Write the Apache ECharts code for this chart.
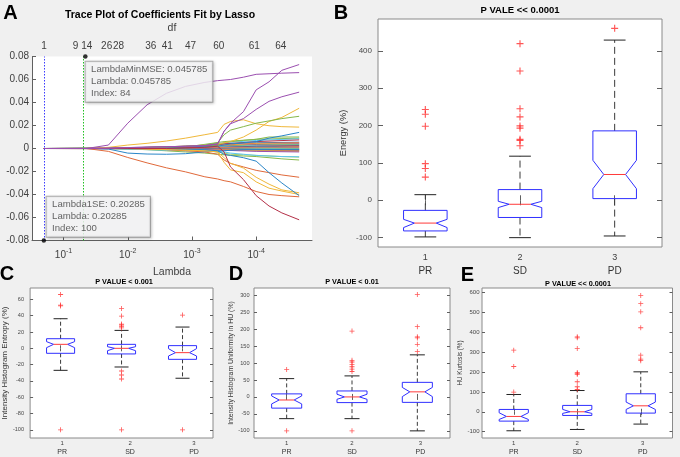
<!DOCTYPE html>
<html><head><meta charset="utf-8">
<script src="https://cdn.jsdelivr.net/npm/echarts@6/dist/echarts.min.js"></script>
<style>html,body{margin:0;padding:0;background:#f0f0f0}#c{width:680px;height:457px}</style>
</head><body><div id="c"></div>
<script>
// ---------------- Panel A data (Lasso trace) ----------------
const lambdaGrid = [0.20285, 0.1, 0.0437, 0.02, 0.01, 0.005, 0.0025, 0.00126, 0.00063, 0.000398, 0.000316, 0.000251, 0.000158, 0.0001, 0.000063, 0.0000398, 0.0000214];
const traceP1 = [0, 0, 0, 0.003, 0.022, 0.038, 0.048, 0.054, 0.0575, 0.059, 0.0595, 0.060, 0.062, 0.0645, 0.065, 0.0655, 0.066];
const traceP2 = [0, 0, 0, 0.0003, 0.0008, 0.0012, 0.0015, 0.002, 0.0025, 0.004, 0.015, 0.022, 0.032, 0.051, 0.058, 0.068, 0.073];
const traceP3 = [0, 0, 0, 0.0003, 0.0008, 0.0012, 0.0015, 0.002, 0.0025, 0.004, 0.015, 0.0215, 0.026, 0.034, 0.041, 0.045, 0.049];
const traceY1 = [0, 0, 0, 0.001, 0.003, 0.0045, 0.0065, 0.009, 0.012, 0.014, 0.021, 0.0235, 0.025, 0.0215, 0.0198, 0.019, 0.0186];
const traceY2 = [0, 0, 0, 0, 0.0005, 0.001, 0.0015, 0.002, 0.003, 0.004, 0.005, 0.006, 0.010, 0.016, 0.0235, 0.027, 0.035];
const traceG1 = [0, 0, 0, 0, 0.0005, 0.001, 0.0015, 0.002, 0.003, 0.005, 0.012, 0.016, 0.019, 0.022, 0.024, 0.026, 0.028];
const traceG2 = [0, 0, 0, 0, 0, 0.0005, 0.001, 0.0015, 0.002, 0.003, 0.005, 0.006, 0.007, 0.008, 0.010, 0.010, 0.010];
const traceB1 = [0, 0, 0, 0, 0, 0.0005, 0.001, 0.0015, 0.002, 0.002, 0.003, 0.004, 0.005, 0.006, 0.009, 0.011, 0.014];
const traceG3 = [0, 0, 0, 0, -0.0005, -0.001, -0.002, -0.003, -0.004, -0.005, -0.0055, -0.006, -0.0065, -0.007, -0.008, -0.009, -0.010];
const traceG4 = [0, 0, 0, 0, -0.0003, -0.0006, -0.001, -0.0015, -0.002, -0.003, -0.004, -0.005, -0.0055, -0.006, -0.0065, -0.007, -0.0075];
const traceLB = [0, 0, 0, 0, -0.0005, -0.001, -0.0015, -0.002, -0.002, -0.0025, -0.003, -0.004, -0.005, -0.006, -0.0065, -0.007, -0.0072];
const traceB2 = [0, 0, 0, -0.0005, -0.004, -0.0048, -0.005, -0.0045, -0.003, -0.002, -0.002, -0.0015, -0.001, -0.001, -0.001, -0.001, -0.001];
const traceR1 = [0, 0, 0, -0.0025, -0.0078, -0.0125, -0.0168, -0.0203, -0.0246, -0.0265, -0.028, -0.029, -0.033, -0.0374, -0.040, -0.041, -0.042];
const traceR2 = [0, 0, 0, 0, 0, -0.0005, -0.001, -0.002, -0.003, -0.005, -0.010, -0.013, -0.016, -0.019, -0.021, -0.023, -0.025];
const traceY3 = [0, 0, 0, 0, 0, -0.0005, -0.001, -0.0015, -0.002, -0.003, -0.012, -0.0186, -0.021, -0.029, -0.0345, -0.037, -0.040];
const traceY4 = [0, 0, 0, 0, 0, 0, -0.0005, -0.001, -0.0015, -0.003, -0.008, -0.0128, -0.017, -0.025, -0.031, -0.036, -0.0385];
const traceB3 = [0, 0, 0, 0, 0, 0, 0, -0.0005, -0.001, -0.002, -0.005, -0.006, -0.008, -0.011, -0.021, -0.030, -0.041];
const traceDR = [0, 0, 0, 0, 0, 0, 0, 0.0005, 0.001, 0.002, -0.003, -0.016, -0.027, -0.041, -0.050, -0.056, -0.062];

const bandLambda = [0.20285, 0.01, 0.001, 0.000316, 0.0001, 0.0000214];
const bandTraces = [
  [0, 0.0005, 0.002, 0.004, 0.005, 0.0055],
  [0, 0.0004, 0.0015, 0.003, 0.0045, 0.005],
  [0, 0.0003, 0.001, 0.0025, 0.004, 0.0045],
  [0, 0.0003, 0.001, 0.002, 0.0035, 0.004],
  [0, 0.0002, 0.0008, 0.002, 0.003, 0.0035],
  [0, 0.0002, 0.0006, 0.0015, 0.0025, 0.003],
  [0, 0.0001, 0.0005, 0.001, 0.002, 0.0025],
  [0, 0.0001, 0.0004, 0.001, 0.0015, 0.002],
  [0, 0.0001, 0.0003, 0.0008, 0.001, 0.0015],
  [0, 0, 0.0002, 0.0005, 0.0008, 0.001],
  [0, 0, 0.0001, 0.0003, 0.0004, 0.0005],
  [0, 0, 0, 0, 0.0001, 0],
  [0, 0, -0.0001, -0.0003, -0.0004, -0.0005],
  [0, 0, -0.0002, -0.0005, -0.0008, -0.001],
  [0, -0.0001, -0.0003, -0.0008, -0.0012, -0.0015],
  [0, -0.0001, -0.0005, -0.001, -0.0015, -0.002],
  [0, -0.0002, -0.0006, -0.0012, -0.002, -0.0025],
  [0, -0.0002, -0.0008, -0.0015, -0.0025, -0.003],
  [0, 0.0003, 0.002, 0.006, 0.008, 0.009],
  [0, 0.0002, 0.0015, 0.005, 0.007, 0.0085],
  [0, 0.0001, 0.001, 0.004, 0.006, 0.0075]
];

const lambdaTicks = [0.1, 0.01, 0.001, 0.0001];
const dfLabels = ['1', '9', '14', '26', '28', '36', '41', '47', '60', '61', '64'];
const dfLambda = [0.2018, 0.0652, 0.0436, 0.0213, 0.0139, 0.00437, 0.00242, 0.00105, 0.000381, 0.0001067, 0.0000413];
const coefTicksA = [-0.08, 0.08, 0.02]; // min, max, step
const lambdaMinMSE = 0.045785, indexMinMSE = 84;
const lambda1SE = 0.20285, index1SE = 100;

// ---------------- Box plot data ----------------
const groupIds = ['1', '2', '3'];
const groupNames = ['PR', 'SD', 'PD'];
// rows: [group, lowerWhisker, Q1, notchLow, median, notchHigh, Q3, upperWhisker]
const energyStats = [
  [0, -98, -82, -73, -61, -51, -27, 15],
  [1, -100, -46, -19.6, -10.7, -2.7, 28.6, 118],
  [2, -95.5, 4.5, 31, 69, 107, 185.7, 428.6]
];
const energyOutliers = [[0, 243], [0, 230], [0, 198], [0, 98], [0, 85], [0, 62],
  [1, 419], [1, 346], [1, 245], [1, 223], [1, 199], [1, 193], [1, 163], [1, 160], [1, 146], [2, 460]];
const energyTicks = [-100, 0, 100, 200, 300, 400];

const entropyStats = [
  [0, -27, -6.1, 0.8, 4.9, 8.2, 11.8, 36.3],
  [1, -22.9, -6.9, -2.9, 0, 2, 4.9, 22],
  [2, -36.7, -13.5, -9.4, -5.3, -0.4, 3.3, 26.1]
];
const entropyOutliers = [[0, 66], [0, 53], [0, 52], [0, -100],
  [1, 49], [1, 39.6], [1, 29.8], [1, 28.6], [1, 26.5], [1, 25], [1, -27.8], [1, -32.7], [1, -37.6], [1, -100],
  [2, 40.8], [2, -100]];
const entropyTicks = [-100, -80, -60, -40, -20, 0, 20, 40, 60];

const uniformityStats = [
  [0, -64, -33, -20.6, -9, 2.9, 9, 54],
  [1, -64, -16.7, -7, 0, 8, 17.6, 62],
  [2, -100, -16, 1, 15, 28, 43, 124]
];
const uniformityOutliers = [[0, 81], [0, -100],
  [1, 194], [1, 108], [1, 103], [1, 96], [1, 89], [1, 82], [1, 75], [1, -100],
  [2, 302], [2, 207], [2, 177], [2, 174], [2, 155], [2, 134]];
const uniformityTicks = [-100, -50, 0, 50, 100, 150, 200, 250, 300];

const kurtosisStats = [
  [0, -95.6, -47, -38.6, -23.5, -5, 11.7, 87],
  [1, -89, -18.5, -8, 0, 12, 32, 107],
  [2, -62, -6.7, 11.7, 30, 48.7, 90.6, 201]
];
const kurtosisOutliers = [[0, 310], [0, 228], [0, 99],
  [1, 377], [1, 372], [1, 319], [1, 198], [1, 193], [1, 188], [1, 151], [1, 126], [1, 112],
  [2, 585], [2, 544], [2, 503], [2, 423], [2, 285], [2, 265], [2, 257]];
const kurtosisTicks = [-100, 0, 100, 200, 300, 400, 500, 600];

// ---------------- Styles ----------------
const FONT = 'Liberation Sans, Arial, Helvetica, sans-serif';
const COL = { blue: '#2a86c8', orange: '#e0693a', yellow: '#f0b83a', purple: '#9b4fb0', green: '#86b84a', lblue: '#5cc6f0', dred: '#b43048' };
const cycle = [COL.blue, COL.orange, COL.yellow, COL.purple, COL.green, COL.lblue, COL.dred];
const PLUS = 'path://M4.2,0h1.6v4.2h4.2v1.6h-4.2v4.2h-1.6v-4.2h-4.2v-1.6h4.2z';

const mainTraces = [
  [traceG2, COL.green], [traceB1, COL.blue], [traceG3, COL.green], [traceG4, '#a6cf6a'], [traceLB, COL.lblue],
  [traceB2, COL.blue], [traceY1, COL.yellow], [traceY2, COL.yellow], [traceG1, COL.green],
  [traceR2, COL.orange], [traceY3, COL.yellow], [traceY4, COL.yellow], [traceB3, COL.blue], [traceR1, COL.orange],
  [traceDR, COL.dred], [traceP3, COL.purple], [traceP2, COL.purple], [traceP1, COL.purple]
];

const series = [];
bandTraces.forEach((vals, i) => {
  const color = cycle[i % cycle.length];
  series.push({ type: 'line', xAxisIndex: 0, yAxisIndex: 0, data: bandLambda.map((x, k) => [x, vals[k]]),
    showSymbol: false, symbol: 'none', lineStyle: { width: 1, color }, itemStyle: { color }, z: 2, silent: true });
});
mainTraces.forEach(([vals, color]) => {
  series.push({ type: 'line', xAxisIndex: 0, yAxisIndex: 0, data: lambdaGrid.map((x, k) => [x, vals[k]]),
    showSymbol: false, symbol: 'none', lineStyle: { width: 1, color }, itemStyle: { color }, z: 2, silent: true });
});
// data tips + vertical lines
series.push({
  type: 'scatter', xAxisIndex: 0, yAxisIndex: 0, symbolSize: 4.5, itemStyle: { color: '#000' }, z: 6, silent: true, clip: false,
  label: { show: true, fontFamily: FONT, fontSize: 9.6, color: '#3c3c3c', lineHeight: 12, backgroundColor: '#fbfbfc',
    borderColor: '#9a9a9a', borderWidth: 1, padding: [2, 5, 2, 5.5], shadowBlur: 3, shadowColor: 'rgba(0,0,0,0.25)', shadowOffsetX: 1, shadowOffsetY: 1 },
  data: [
    { value: [lambdaMinMSE, coefTicksA[1]], label: { position: [2.5, 7.5], align: 'left', verticalAlign: 'top',
      formatter: 'LambdaMinMSE: ' + lambdaMinMSE + '\nLambda: ' + lambdaMinMSE + '\nIndex: ' + indexMinMSE } },
    { value: [lambda1SE, coefTicksA[0]], label: { position: [5, -1.5], align: 'left', verticalAlign: 'bottom',
      formatter: 'Lambda1SE: ' + lambda1SE + '\nLambda: ' + lambda1SE + '\nIndex: ' + index1SE } }
  ],
  markLine: { symbol: 'none', silent: true, label: { show: false }, animation: false,
    data: [
      { xAxis: lambda1SE, lineStyle: { color: '#3a3aff', type: [1.5, 1.5], width: 1 } },
      { xAxis: lambdaMinMSE, lineStyle: { color: '#22c022', type: [1.5, 1.5], width: 1 } }
    ] }
});

const xAxes = [], yAxes = [];
const axisGray = '#606060';
xAxes.push({
  gridIndex: 0, type: 'log', logBase: 10, inverse: true, min: 1.35e-5, max: 0.31, position: 'bottom',
  axisLine: { show: true, onZero: false, lineStyle: { color: axisGray } },
  axisTick: { show: true, inside: true, length: 4, customValues: lambdaTicks, lineStyle: { color: axisGray } },
  axisLabel: { customValues: lambdaTicks, margin: 5,
    formatter: v => '{b|10}{s|' + Math.round(Math.log10(v)) + '}',
    rich: { b: { fontFamily: FONT, fontSize: 10, color: '#404040', padding: [5, 0, 0, 0] },
            s: { fontFamily: FONT, fontSize: 7, color: '#404040', padding: [0, 0, 4, 0] } } },
  splitLine: { show: false },
  name: 'Lambda', nameLocation: 'middle', nameGap: 26, nameTextStyle: { fontFamily: FONT, fontSize: 10.5, color: '#404040' }
});
xAxes.push({
  gridIndex: 0, type: 'log', logBase: 10, inverse: true, min: 1.35e-5, max: 0.31, position: 'top',
  axisLine: { show: false }, axisTick: { show: false }, splitLine: { show: false },
  axisLabel: { customValues: dfLambda, margin: 5, fontFamily: FONT, fontSize: 10, color: '#404040',
    formatter: v => { let bi = 0, bd = Infinity; dfLambda.forEach((d, i) => { const dd = Math.abs(Math.log10(d) - Math.log10(v)); if (dd < bd) { bd = dd; bi = i; } }); return dfLabels[bi]; } },
  name: 'df', nameLocation: 'middle', nameGap: 23, nameTextStyle: { fontFamily: FONT, fontSize: 10.5, color: '#404040' }
});
yAxes.push({
  gridIndex: 0, type: 'value', min: coefTicksA[0], max: coefTicksA[1], interval: coefTicksA[2],
  axisLine: { show: true, lineStyle: { color: axisGray } },
  axisTick: { show: true, inside: true, length: 4, lineStyle: { color: axisGray } },
  axisLabel: { fontFamily: FONT, fontSize: 10, color: '#404040', margin: 3, formatter: v => Math.abs(v) < 1e-9 ? '0' : v.toFixed(2) },
  splitLine: { show: false }
});

const panels = [
  { grid: 1, stats: energyStats, outliers: energyOutliers, ticks: energyTicks, min: -125, max: 485, yName: 'Energy (%)',
    nameGap: 30, nameSize: 9.3, tickSize: 8, tickMargin: 6, tickLen: 5, dash: [7, 4], plus: 7,
    nSize: 9, nLH: 13, cSize: 10, cLH: 14, catMargin: 4, shift: [0, 0, 0] },
  { grid: 2, stats: entropyStats, outliers: entropyOutliers, ticks: entropyTicks, min: -110, max: 74, yName: 'Intensity Histogram Entropy (%)',
    nameGap: 20, nameSize: 8, tickSize: 5.6, tickMargin: 6, tickLen: 3, dash: [4, 2.5], plus: 5,
    nSize: 6, nLH: 8, cSize: 7, cLH: 10, catMargin: 1, shift: [1.5, 8.5, 11.5] },
  { grid: 3, stats: uniformityStats, outliers: uniformityOutliers, ticks: uniformityTicks, min: -121, max: 321, yName: 'Intensity Histogram Uniformity in HU (%)',
    nameGap: 18, nameSize: 6.9, tickSize: 5.6, tickMargin: 4.5, tickLen: 3, dash: [4, 2.5], plus: 5,
    nSize: 6, nLH: 8, cSize: 7, cLH: 10, catMargin: 1, shift: [0, 0, 3] },
  { grid: 4, stats: kurtosisStats, outliers: kurtosisOutliers, ticks: kurtosisTicks, min: -132, max: 623, yName: 'HU Kurtosis (%)',
    nameGap: 16, nameSize: 6.3, tickSize: 6, tickMargin: 2.5, tickLen: 3, dash: [4, 2.5], plus: 5,
    nSize: 6, nLH: 8, cSize: 7, cLH: 10, catMargin: 1, shift: [0, 0, 2] }
];

function makeBoxRender(p) {
  return function (params, api) {
    const c = api.value(0);
    const vals = [1, 2, 3, 4, 5, 6, 7].map(k => api.value(k));
    const [lo, q1, nlo, med, nhi, q3, hi] = vals;
    const band = api.size([1, 0])[0];
    const bw = band * 0.46;
    const cx = api.coord([c, med])[0];
    const Y = v => api.coord([c, v])[1];
    const L = cx - bw / 2, R = cx + bw / 2, Ln = cx - bw / 4, Rn = cx + bw / 4, cw = bw / 4;
    const dash = { stroke: '#3a3a3a', lineWidth: 1, lineDash: p.dash };
    const solid = { stroke: '#222', lineWidth: 1 };
    return { type: 'group', children: [
      { type: 'line', shape: { x1: cx, y1: Y(q3), x2: cx, y2: Y(hi) }, style: dash },
      { type: 'line', shape: { x1: cx, y1: Y(q1), x2: cx, y2: Y(lo) }, style: dash },
      { type: 'line', shape: { x1: cx - cw, y1: Y(hi), x2: cx + cw, y2: Y(hi) }, style: solid },
      { type: 'line', shape: { x1: cx - cw, y1: Y(lo), x2: cx + cw, y2: Y(lo) }, style: solid },
      { type: 'polygon', shape: { points: [[L, Y(q3)], [R, Y(q3)], [R, Y(nhi)], [Rn, Y(med)], [R, Y(nlo)], [R, Y(q1)], [L, Y(q1)], [L, Y(nlo)], [Ln, Y(med)], [L, Y(nhi)]] },
        style: { fill: 'none', stroke: '#2f2fff', lineWidth: 1 } },
      { type: 'line', shape: { x1: Ln, y1: Y(med), x2: Rn, y2: Y(med) }, style: { stroke: '#ff3a3a', lineWidth: 1 } }
    ] };
  };
}

panels.forEach(p => {
  const xi = xAxes.length, yi = yAxes.length;
  const rich = {};
  p.shift.forEach((s, i) => {
    rich['n' + i] = { fontFamily: FONT, fontSize: p.nSize, lineHeight: p.nLH, color: '#404040', padding: [0, 0, 0, 2 * s] };
    rich['c' + i] = { fontFamily: FONT, fontSize: p.cSize, lineHeight: p.cLH, color: '#333', padding: [0, 0, 0, 2 * s] };
  });
  const tick = { show: true, inside: true, alignWithLabel: true, length: p.tickLen, lineStyle: { color: axisGray } };
  xAxes.push({ gridIndex: p.grid, type: 'category', data: groupIds, position: 'bottom', axisLine: { show: false }, axisTick: tick,
    axisLabel: { margin: p.catMargin, interval: 0, formatter: (v, i) => '{n' + i + '|' + v + '}\n{c' + i + '|' + groupNames[i] + '}', rich },
    splitLine: { show: false } });
  xAxes.push({ gridIndex: p.grid, type: 'category', data: groupIds, position: 'top', axisLine: { show: false }, axisTick: tick,
    axisLabel: { show: false }, splitLine: { show: false } });
  const ytick = { show: true, inside: true, length: p.tickLen, customValues: p.ticks, lineStyle: { color: axisGray } };
  yAxes.push({ gridIndex: p.grid, type: 'value', min: p.min, max: p.max, position: 'left', axisLine: { show: false }, axisTick: ytick,
    axisLabel: { customValues: p.ticks, fontFamily: FONT, fontSize: p.tickSize, color: '#484848', margin: p.tickMargin },
    splitLine: { show: false }, name: p.yName, nameLocation: 'middle', nameGap: p.nameGap,
    nameTextStyle: { fontFamily: FONT, fontSize: p.nameSize, color: '#333' } });
  yAxes.push({ gridIndex: p.grid, type: 'value', min: p.min, max: p.max, position: 'right', axisLine: { show: false }, axisTick: ytick,
    axisLabel: { show: false }, splitLine: { show: false } });
  series.push({ type: 'custom', xAxisIndex: xi, yAxisIndex: yi, data: p.stats, renderItem: makeBoxRender(p),
    encode: { x: 0, y: [1, 2, 3, 4, 5, 6, 7] }, z: 3, silent: true });
  series.push({ type: 'scatter', xAxisIndex: xi, yAxisIndex: yi, data: p.outliers, symbol: PLUS, symbolSize: p.plus,
    itemStyle: { color: '#ff2a2a' }, z: 4, silent: true });
});

const gridStyle = { show: true, backgroundColor: '#fff', borderColor: '#8a8a8a', borderWidth: 1 };
const grids = [
  { left: 32, top: 56.5, width: 280, height: 184, show: true, backgroundColor: '#fff', borderWidth: 0 },
  Object.assign({ left: 378, top: 19, width: 284, height: 228 }, gridStyle),
  Object.assign({ left: 28, top: 288, width: 185, height: 150 }, gridStyle),
  Object.assign({ left: 254, top: 288, width: 196, height: 150 }, gridStyle),
  Object.assign({ left: 482, top: 288, width: 190.5, height: 150 }, gridStyle)
];
grids.forEach(g => { g.containLabel = false; });

function txt(text, x, y, size, bold) {
  return { type: 'text', x, y, silent: true, z: 100,
    style: { text, font: (bold ? 'bold ' : '') + size + 'px ' + FONT, fill: '#000', textAlign: 'center', textVerticalAlign: 'middle' } };
}
const graphic = [
  txt('A', 10.5, 13, 20, true), txt('B', 341, 13, 20, true), txt('C', 7, 274, 20, true),
  txt('D', 236, 274.5, 20, true), txt('E', 467.5, 275.5, 20, true),
  txt('Trace Plot of Coefficients Fit by Lasso', 160, 15, 10.5, true),
  txt('P VALE << 0.0001', 520, 10.7, 9.5, true),
  txt('P VALUE < 0.001', 124, 282.3, 7.3, true),
  txt('P VALUE < 0.01', 352, 282.3, 7.3, true),
  txt('P VALUE << 0.0001', 578, 283.5, 7.3, true)
];

const chart = echarts.init(document.getElementById('c'));
chart.setOption({
  backgroundColor: '#f0f0f0', animation: false,
  grid: grids, xAxis: xAxes, yAxis: yAxes, series, graphic
});
</script></body></html>
